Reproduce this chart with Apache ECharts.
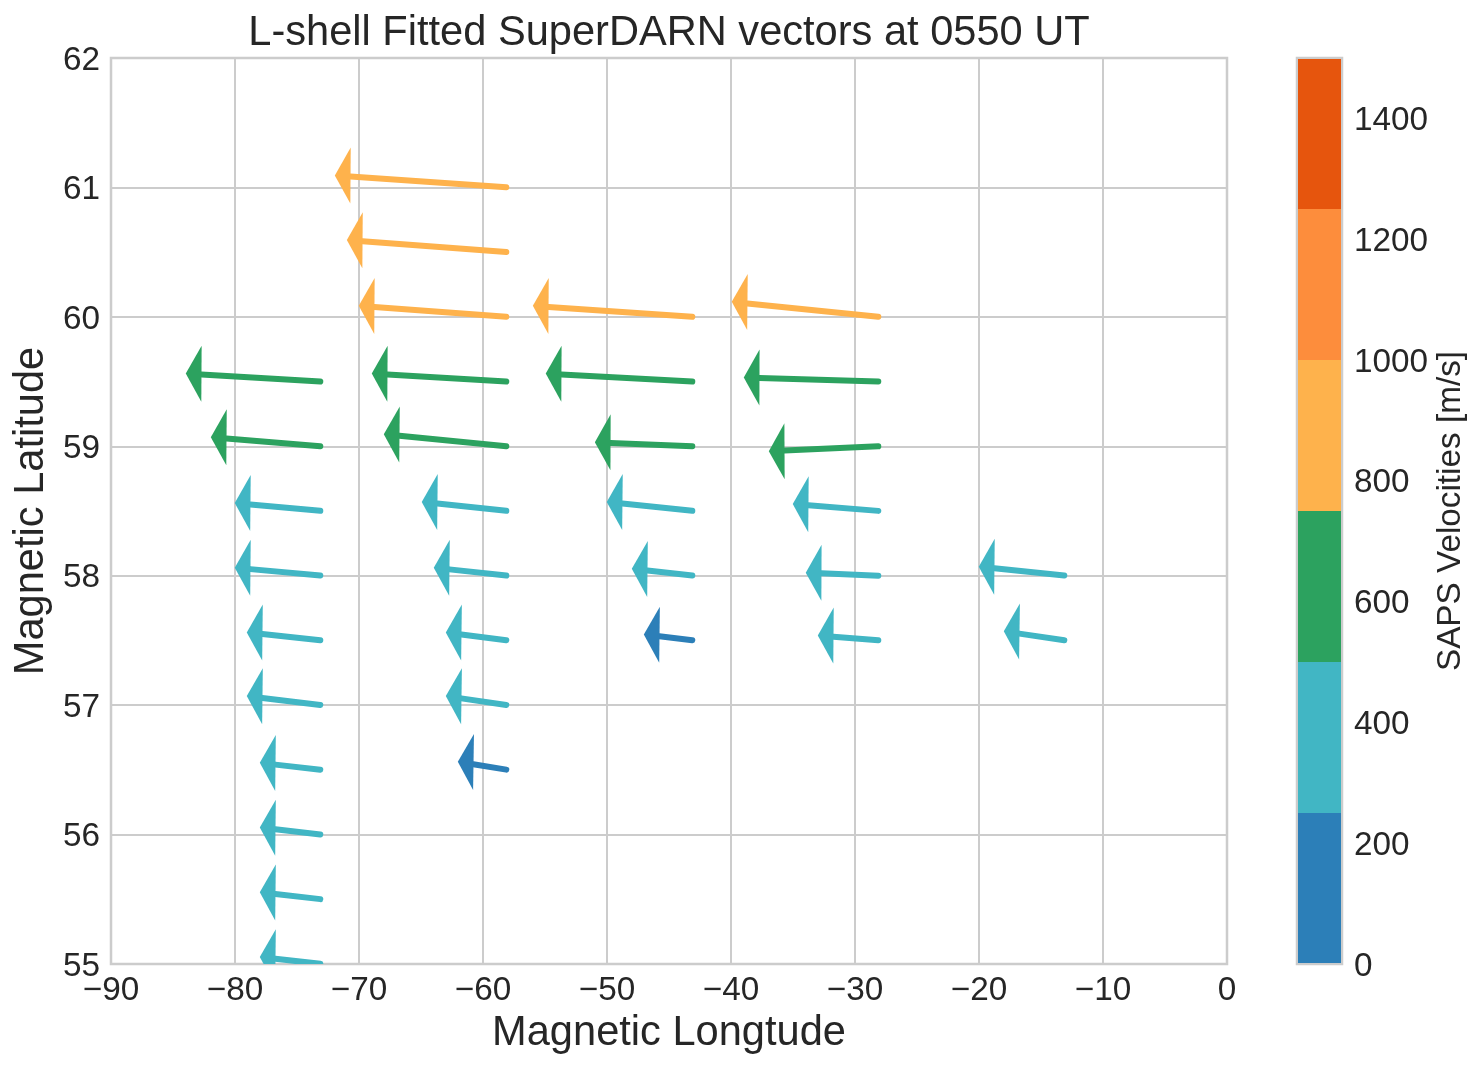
<!DOCTYPE html>
<html>
<head>
<meta charset="utf-8">
<title>L-shell Fitted SuperDARN vectors</title>
<style>html,body{margin:0;padding:0;background:#fff}#chart{width:1483px;height:1069px}</style>
<script src="https://cdn.jsdelivr.net/npm/echarts@6/dist/echarts.min.js"></script>
</head>
<body>
<div id="chart"></div>
<script>
// Vector origins (magnetic longitude / latitude)
const baseLon = [-58,-58,-58,-43,-28,-73,-58,-43,-28,-73,-58,-43,-28,-73,-58,-43,-28,-73,-58,-43,-28,-13,-73,-58,-43,-28,-13,-73,-58,-73,-58,-73,-73,-73];
const baseLat = [61,60.5,60,60,60,59.5,59.5,59.5,59.5,59,59,59,59,58.5,58.5,58.5,58.5,58,58,58,58,58,57.5,57.5,57.5,57.5,57.5,57,57,56.5,56.5,56,55.5,55];
// Vector extents in degrees
const dLon = [-13.95,-12.98,-12.02,-12.98,-11.94,-10.97,-10.97,-11.94,-10.97,-8.95,-10,-7.98,-8.95,-7.02,-6.94,-7.02,-7.02,-7.02,-5.97,-5,-5.97,-7.02,-6.05,-5,-4.03,-5,-5,-6.05,-5,-5,-4.03,-5,-5,-5];
const dLat = [0.093,0.093,0.085,0.085,0.116,0.062,0.062,0.062,0.031,0.07,0.093,0.031,-0.039,0.062,0.07,0.07,0.054,0.062,0.062,0.054,0.023,0.07,0.062,0.062,0.046,0.039,0.07,0.07,0.07,0.054,0.062,0.054,0.054,0.054];
// Speed of each vector, m/s (estimated from the colour band and arrow length)
const speeds = [865,805,760,805,760,680,680,740,680,555,620,510,555,435,430,435,435,435,370,310,370,435,375,310,245,310,310,375,310,310,245,310,310,310];
// Colour bar
const bandEdges = [0,250,500,750,1000,1250,1500];
const bandColors = ['#2c7fb8','#41b6c4','#2ca25f','#feb24c','#fd8d3c','#e6550d'];
const title = 'L-shell Fitted SuperDARN vectors at 0550 UT';
const xName = 'Magnetic Longtude', yName = 'Magnetic Latitude', cbarName = 'SAPS Velocities [m/s]';

const TEXT = '#262626', GRID = '#cccccc', FONT = '"Liberation Sans", Arial, sans-serif';
const HEAD_LEN = 15.7, HEAD_HALF = 28, SHAFT = 6, CAP_INSET = 1.5, BAR_INSET = 1;

function bandColor(v) {
  for (let i = 0; i < bandColors.length; i++) if (v < bandEdges[i + 1]) return bandColors[i];
  return bandColors[bandColors.length - 1];
}
const vectors = baseLon.map((lon, i) => [lon, baseLat[i], lon + dLon[i], baseLat[i] + dLat[i], speeds[i]]);
const bands = bandColors.map((c, i) => [bandEdges[i], bandEdges[i + 1], i]);

function renderArrow(params, api) {
  const x0 = api.value(0), y0 = api.value(1), x1 = api.value(2), y1 = api.value(3);
  const a = api.coord([x0, y0]);
  const t = api.coord([x1, y1]);
  // head is oriented by the vector's angle in degree space, as a quiver with angles in data units
  const dl = Math.hypot(x1 - x0, y1 - y0);
  const hx = (x1 - x0) / dl, hy = -(y1 - y0) / dl;
  const bx = t[0] - hx * HEAD_LEN, by = t[1] - hy * HEAD_LEN;
  // the shaft stays on the straight line between origin and tip
  const len = Math.hypot(t[0] - a[0], t[1] - a[1]);
  const ux = (t[0] - a[0]) / len, uy = (t[1] - a[1]) / len;
  const sx = t[0] - ux * HEAD_LEN, sy = t[1] - uy * HEAD_LEN;
  const color = bandColor(api.value(4));
  return {
    type: 'group',
    children: [
      { type: 'line', shape: { x1: a[0] + ux * CAP_INSET, y1: a[1] + uy * CAP_INSET, x2: sx, y2: sy },
        style: { stroke: color, lineWidth: SHAFT, lineCap: 'round' } },
      { type: 'polygon',
        shape: { points: [t, [bx - hy * HEAD_HALF, by + hx * HEAD_HALF], [bx + hy * HEAD_HALF, by - hx * HEAD_HALF]] },
        style: { fill: color } }
    ]
  };
}
function renderBand(params, api) {
  const lo = api.value(0), hi = api.value(1);
  const p0 = api.coord([0, lo]);
  const p1 = api.coord([1, hi]);
  // leave the frame of the colour bar visible around the bands
  const bottom = p0[1] - (lo === bandEdges[0] ? BAR_INSET : 0);
  const top = p1[1] + (hi === bandEdges[bandEdges.length - 1] ? BAR_INSET : 0);
  return { type: 'rect',
    shape: { x: p0[0] + BAR_INSET, y: top, width: p1[0] - p0[0] - 2 * BAR_INSET, height: bottom - top },
    style: { fill: bandColors[api.value(2)] } };
}
const minusFmt = v => String(v).replace('-', '\u2212');
// tick labels sit a little lower than the centre of their text box
const richFmt = v => '{t|' + v + '}';
const richTick = { t: { fontFamily: FONT, fontSize: 33.3, color: TEXT, padding: [5, 0, 0, 0] } };
const chart = echarts.init(document.getElementById('chart'), null, { renderer: 'canvas' });
chart.setOption({
  animation: false,
  backgroundColor: '#ffffff',
  textStyle: { fontFamily: FONT, color: TEXT },
  title: { text: title, left: 664, top: 8, textAlign: 'center',
    textStyle: { fontFamily: FONT, fontSize: 41.6, fontWeight: 'normal', color: TEXT } },
  grid: [
    { left: 111, top: 58, width: 1116, height: 906, show: true, borderColor: GRID, borderWidth: 2.5, backgroundColor: '#fff', outerBoundsMode: 'none' },
    { left: 1297, top: 58, width: 45, height: 906, show: true, borderColor: GRID, borderWidth: 2.5, backgroundColor: 'transparent', outerBoundsMode: 'none' }
  ],
  xAxis: [
    { type: 'value', gridIndex: 0, min: -90, max: 0, interval: 10,
      name: xName, nameLocation: 'middle', nameGap: 49,
      nameTextStyle: { fontFamily: FONT, fontSize: 41.6, color: TEXT },
      axisLine: { show: false }, axisTick: { show: false },
      axisLabel: { fontFamily: FONT, fontSize: 33.3, color: TEXT, margin: 10, formatter: minusFmt },
      splitLine: { show: true, lineStyle: { color: GRID, width: 2 } } },
    { type: 'value', gridIndex: 1, min: 0, max: 1, show: false }
  ],
  yAxis: [
    { type: 'value', gridIndex: 0, min: 55, max: 62, interval: 1,
      name: yName, nameLocation: 'middle', nameGap: 50, nameRotate: 90,
      nameTextStyle: { fontFamily: FONT, fontSize: 41.6, color: TEXT },
      axisLine: { show: false }, axisTick: { show: false },
      axisLabel: { margin: 11, formatter: richFmt, rich: richTick },
      splitLine: { show: true, lineStyle: { color: GRID, width: 2 } } },
    { type: 'value', gridIndex: 1, min: 0, max: 1500, interval: 200, position: 'right',
      name: cbarName, nameLocation: 'middle', nameGap: 92, nameRotate: 90,
      nameTextStyle: { fontFamily: FONT, fontSize: 33.3, color: TEXT },
      axisLine: { show: false }, axisTick: { show: false }, splitLine: { show: false },
      axisLabel: { margin: 12, showMaxLabel: false, formatter: richFmt, rich: richTick } }
  ],
  series: [
    { type: 'custom', name: 'vectors', xAxisIndex: 0, yAxisIndex: 0, clip: true, silent: true,
      encode: { x: [0, 2], y: [1, 3] }, renderItem: renderArrow, data: vectors, z: 5 },
    { type: 'custom', name: 'colorbar', xAxisIndex: 1, yAxisIndex: 1, silent: true,
      encode: { y: [0, 1] }, renderItem: renderBand, data: bands, z: 5 }
  ]
});
</script>
</body>
</html>
